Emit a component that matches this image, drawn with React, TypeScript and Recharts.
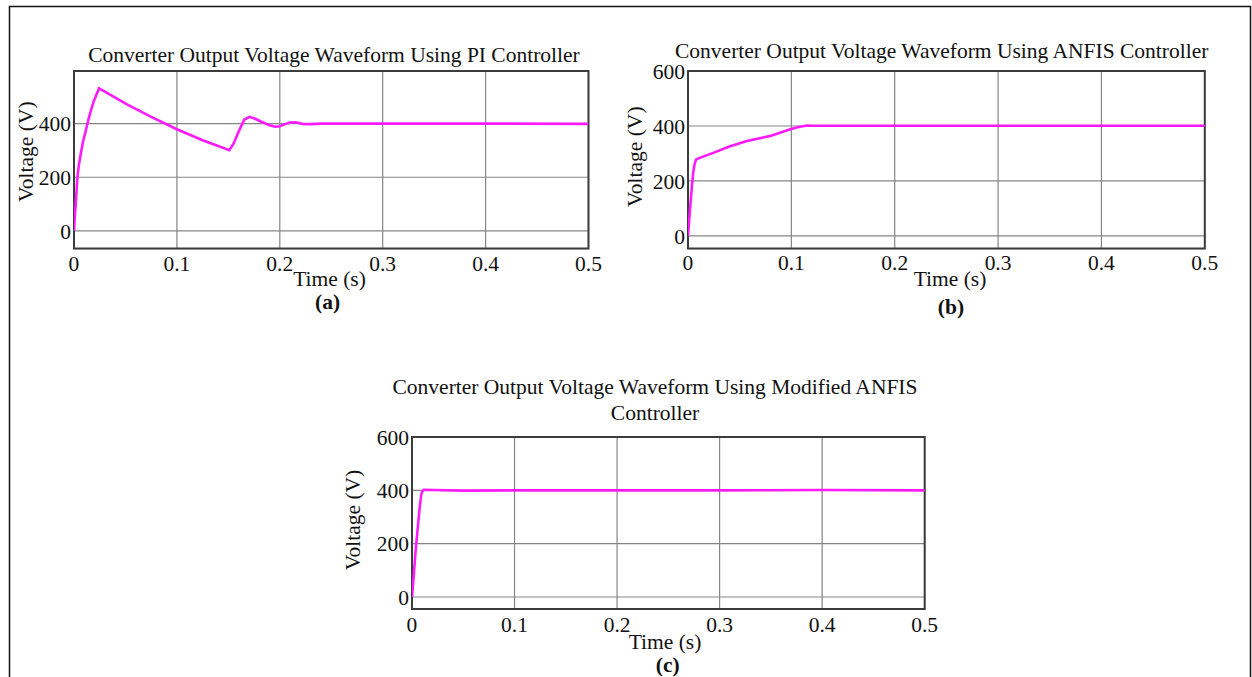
import React from "react";
import { LineChart, Line, XAxis, YAxis, CartesianGrid, ReferenceArea } from "recharts";

const FONT = '"Liberation Serif", "Times New Roman", serif';

// shared axis ticks
const xTicks = [0, 0.1, 0.2, 0.3, 0.4, 0.5];
const yTicksPI = [0, 200, 400];
const yTicksANFIS = [0, 200, 400, 600];

// (a) PI controller
const piTime = [0, 0.0008, 0.0017, 0.0033, 0.0048, 0.0065, 0.0088, 0.0114, 0.0138, 0.0163, 0.0188, 0.0211, 0.0244,
  0.035, 0.052, 0.075, 0.1, 0.125, 0.151, 0.155, 0.16, 0.1656, 0.1705, 0.176, 0.182, 0.19, 0.1955, 0.2, 0.205,
  0.21, 0.215, 0.222, 0.23, 0.24, 0.3, 0.4, 0.5];
const piVolt = [0, 55, 101, 200, 247, 286, 333, 373, 412, 447, 478, 502, 531,
  508, 471, 425, 379, 338, 301, 325, 370, 415, 425, 418, 407, 394, 388, 390, 398,
  404, 405, 399, 398, 400, 400, 400, 399];

// (b) ANFIS controller
const anfisTime = [0, 0.0013, 0.0026, 0.004, 0.0052, 0.0066, 0.0081, 0.012, 0.0251, 0.04, 0.057, 0.0797, 0.099,
  0.107, 0.115, 0.12, 0.2, 0.3, 0.4, 0.5];
const anfisVolt = [0, 65, 127, 190, 236, 265, 279, 285, 303, 325, 345, 364, 388,
  396, 402, 401, 401, 401, 401, 401];

// (c) modified ANFIS controller
const modTime = [0, 0.0017, 0.0033, 0.005, 0.0066, 0.0078, 0.0089, 0.01, 0.0115, 0.02, 0.05, 0.1, 0.2, 0.3, 0.4, 0.5];
const modVolt = [0, 80, 163, 235, 300, 345, 381, 396, 402, 401, 399, 400, 400, 400, 401, 400];

const rows = (ts: number[], vs: number[]) => ts.map((t, i) => ({ t, v: vs[i] }));

interface PanelProps {
  data: { t: number; v: number }[];
  yDomain: [number, number];
  yTicks: number[];
  left: number;
  right: number;
  top: number;
  bottom: number;
  xTickGap: number;
}

function Panel({ data, yDomain, yTicks, left, right, top, bottom, xTickGap }: PanelProps) {
  const w = right - left + 90;
  const h = bottom - top + 60;
  const tickStyle = { fill: "#111", fontSize: 21.5, fontFamily: FONT };
  return (
    <div style={{ position: "absolute", left: left - 70, top: top - 20, width: w, height: h }}>
      <LineChart width={w} height={h} data={data} margin={{ top: 20, right: 20, bottom: 10, left: 10 }}>
        <CartesianGrid stroke="#858585" strokeWidth={1.2} />
        <XAxis dataKey="t" type="number" domain={[0, 0.5]} ticks={xTicks} allowDataOverflow
          height={30} tick={tickStyle} tickLine={false} axisLine={false} tickSize={0} tickMargin={xTickGap} />
        <YAxis type="number" domain={yDomain} ticks={yTicks} allowDataOverflow
          width={60} tick={tickStyle} tickLine={false} axisLine={false} tickSize={0} tickMargin={3} />
        <Line type="linear" dataKey="v" stroke="#ff1aff" strokeWidth={2.6} dot={false} isAnimationActive={false} />
        <ReferenceArea x1={0} x2={0.5} y1={yDomain[0]} y2={yDomain[1]} fill="none" fillOpacity={0}
          stroke="#3c3c3c" strokeWidth={2} ifOverflow="visible" />
      </LineChart>
    </div>
  );
}

const txt = { fontFamily: FONT, fontSize: 21.5, fill: "#111", textAnchor: "middle" as const, dominantBaseline: "central" as const };

export default function App() {
  return (
    <div style={{ position: "absolute", left: 0, top: 0, width: 1252, height: 677, background: "#fff" }}>
      <Panel data={rows(piTime, piVolt)} yDomain={[-66, 596]} yTicks={yTicksPI}
        left={73.5} right={588} top={70.7} bottom={248.3} xTickGap={7} />
      <Panel data={rows(anfisTime, anfisVolt)} yDomain={[-46, 600]} yTicks={yTicksANFIS}
        left={687.8} right={1204.6} top={70.7} bottom={248.3} xTickGap={6} />
      <Panel data={rows(modTime, modVolt)} yDomain={[-45, 600]} yTicks={yTicksANFIS}
        left={411.5} right={924.2} top={437} bottom={609} xTickGap={8} />

      <svg width={1252} height={677} style={{ position: "absolute", left: 0, top: 0, pointerEvents: "none" }}>
        <path d="M9.5 677 V6.5 H1250.5 V677" fill="none" stroke="#111" strokeWidth={1.5} />

        <text {...txt} x={334} y={55}>Converter Output Voltage Waveform Using PI Controller</text>
        <text {...txt} x={329.5} y={279.3}>Time (s)</text>
        <text {...txt} x={327.6} y={301.5} fontWeight="bold">(a)</text>
        <text {...txt} x={25.7} y={151.7} transform="rotate(-90 25.7 151.7)">Voltage (V)</text>

        <text {...txt} x={941.7} y={50.7}>Converter Output Voltage Waveform Using ANFIS Controller</text>
        <text {...txt} x={950} y={279.3}>Time (s)</text>
        <text {...txt} x={951} y={306.7} fontWeight="bold">(b)</text>
        <text {...txt} x={634.6} y={156.7} transform="rotate(-90 634.6 156.7)">Voltage (V)</text>

        <text {...txt} x={655} y={387.3}>Converter Output Voltage Waveform Using Modified ANFIS</text>
        <text {...txt} x={655} y={412.7}>Controller</text>
        <text {...txt} x={665} y={642.2}>Time (s)</text>
        <text {...txt} x={667.7} y={664.5} fontWeight="bold">(c)</text>
        <text {...txt} x={352.6} y={520} transform="rotate(-90 352.6 520)">Voltage (V)</text>
      </svg>
    </div>
  );
}
